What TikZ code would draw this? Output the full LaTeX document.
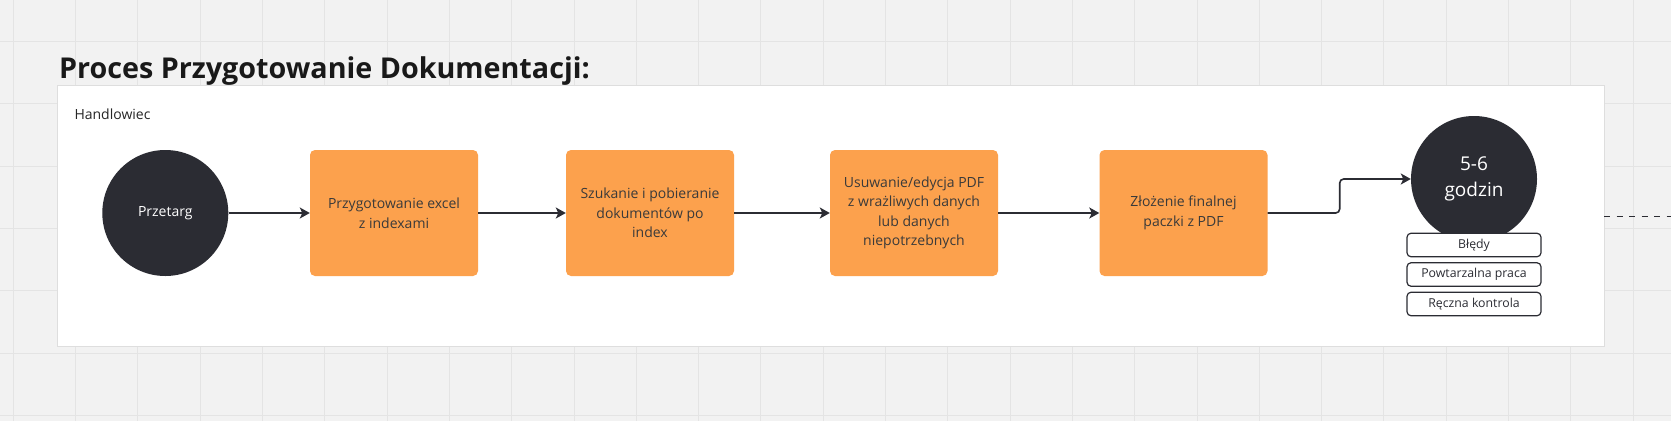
\documentclass[tikz,border=0pt]{standalone}
\usepackage{fontspec}
\setmainfont{Open Sans}
\usetikzlibrary{arrows.meta}
\definecolor{boardbg}{RGB}{242,242,242}
\definecolor{gridcol}{RGB}{228,228,228}
\definecolor{lanecol}{RGB}{222,222,222}
\definecolor{taskorange}{RGB}{252,161,77}
\definecolor{evdark}{RGB}{43,44,51}
\definecolor{tasktext}{RGB}{58,58,58}
\tikzset{
  gridline/.style={draw=gridcol, line width=1pt},
  lane/.style={rectangle, draw=lanecol, line width=0.8pt, fill=white,
    minimum width=1546.7pt, minimum height=260.8pt, inner sep=0pt},
  task/.style={rectangle, rounded corners=5pt, fill=taskorange, text=tasktext,
    font=\fontsize{14}{19.5}\selectfont, align=center,
    minimum width=168pt, minimum height=126pt, inner sep=2pt},
  ev/.style={circle, fill=evdark, text=white, minimum size=126pt,
    inner sep=0pt, align=center},
  tag/.style={rectangle, rounded corners=4pt, draw=evdark, line width=1.2pt,
    fill=white, text=evdark, font=\fontsize{12.3}{14}\selectfont,
    minimum width=134pt, minimum height=23.5pt, inner sep=0pt},
  flow/.style={draw=evdark, line width=1.6pt,
    -{Stealth[length=10pt, width=11pt, inset=2.5pt]}},
}

\begin{document}
\begin{tikzpicture}[x=1pt, y=-1pt]
\useasboundingbox (0,0) rectangle (1671,421);

%% Board
\fill[boardbg] (0,0) rectangle (1671,421);
\foreach \gx in {0,...,26}
  \draw[gridline] (13.3+62.3*\gx,0) -- (13.3+62.3*\gx,421);
\foreach \gy in {0,...,6}
  \draw[gridline] (0,41.5+62.3*\gy) -- (1671,41.5+62.3*\gy);

%% Title and lane
\node[anchor=base west, inner sep=0pt, text=black!90,
      font=\bfseries\fontsize{28.7}{32}\selectfont] (title) at (59,78.3)
      {Proces Przygotowanie Dokumentacji:};
\node[lane] (lane) at (830.65,216.1) {};
\node[anchor=base west, inner sep=0pt, text=black!85,
      font=\fontsize{14}{16}\selectfont] (role) at (74.3,119.3) {Handlowiec};

%% == STEPS ===================================================================
\node[ev, font=\fontsize{14}{16}\selectfont] (prz) at (165.3,213) {Przetarg};
\node[task] (t1) at ( 394,213) {Przygotowanie excel\\z indexami};
\node[task] (t2) at ( 650,213) {Szukanie i pobieranie\\dokumentów po\\index};
\node[task] (t3) at ( 914,213) {Usuwanie/edycja PDF\\z wrażliwych danych\\lub danych\\niepotrzebnych};
\node[task] (t4) at (1183.5,213) {Złożenie finalnej\\paczki z PDF};

%% == RESULT ==================================================================
\node[ev, font=\fontsize{19}{26}\selectfont] (czas) at (1474,179) {5-6\\godzin};
\node[tag] (bl1) at (1474,245)   {Błędy};
\node[tag] (bl2) at (1474,274.5) {Powtarzalna praca};
\node[tag] (bl3) at (1474,304)   {Ręczna kontrola};

%% Connectors
\draw[flow] (prz) -- (t1);
\draw[flow] (t1) -- (t2);
\draw[flow] (t2) -- (t3);
\draw[flow] (t3) -- (t4);
\draw[flow, rounded corners=4pt] (t4.east) -- ++(72,0) |- (czas.west);

% dashed line leaving the lane
\coordinate (outA) at (1604,216.7);
\coordinate (outB) at (1671,216.7);
\draw[draw=evdark, line width=1.5pt, dash pattern=on 6.3pt off 6.2pt] (outA) -- (outB);
\end{tikzpicture}
\end{document}
